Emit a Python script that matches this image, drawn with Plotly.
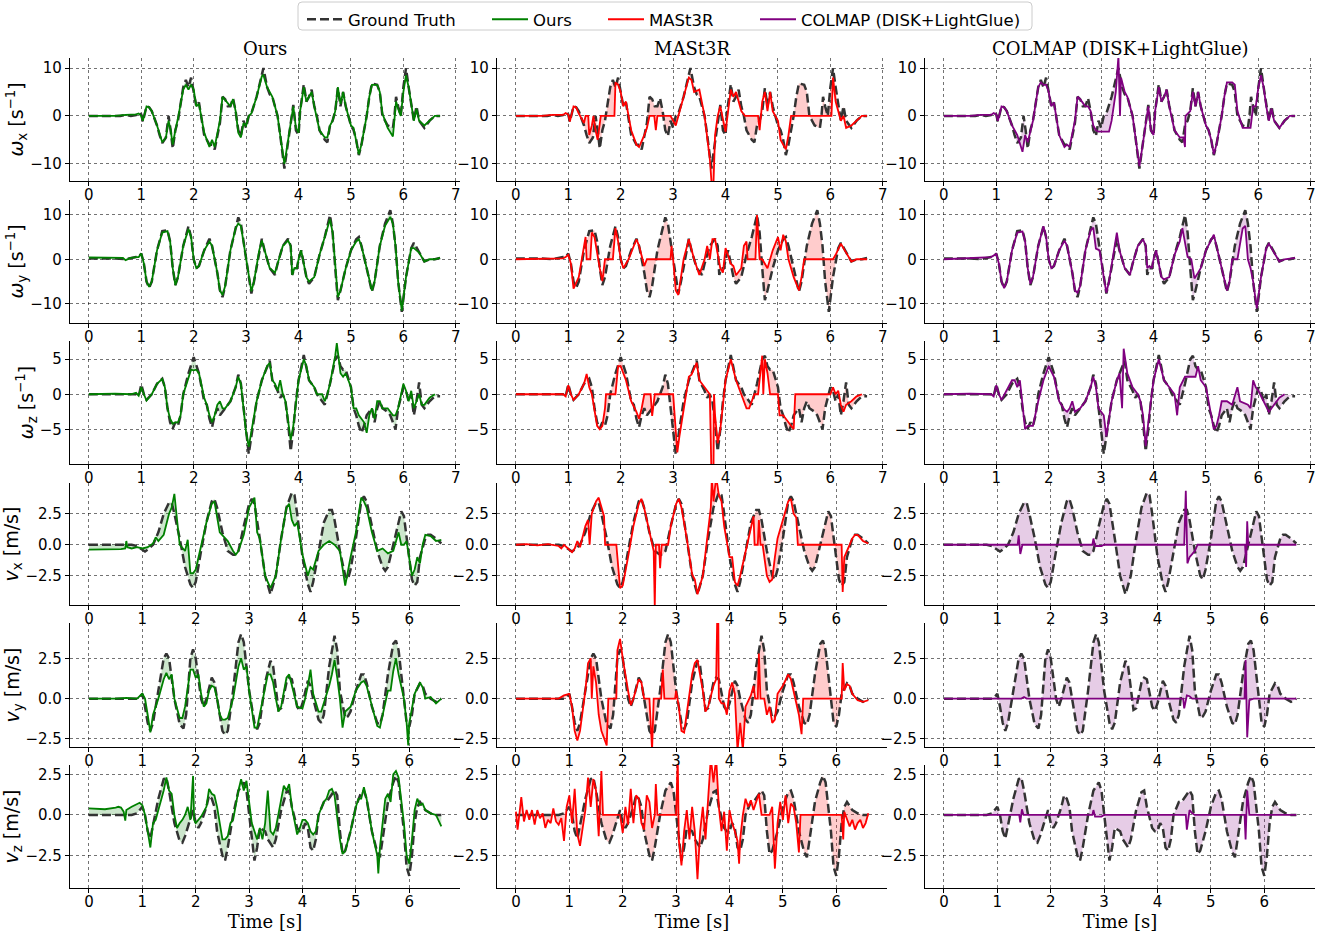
import numpy as np
import plotly.graph_objects as go

# ---------------- data: (time [s], value) pairs ----------------
GT_WX = [(0,0),(0.3,0),(0.5,0.1),(0.6,0),(0.7,0.2),(0.8,0),(0.9,0.2),(0.95,0.6),(1.0,0.3),(1.03,-1.2),(1.1,2.0),(1.15,1.8),(1.2,1.0),(1.3,-2),(1.35,-4),(1.4,-5.7),(1.47,-4.5),(1.52,0),(1.56,-3),(1.6,-6.8),(1.65,-3),(1.7,-1),(1.8,6),(1.85,7.5),(1.9,6),(1.95,8),(2.0,5),(2.05,2),(2.1,2.8),(2.15,-1),(2.2,-4),(2.3,-6),(2.35,-6),(2.4,-7),(2.45,-4),(2.5,-1.5),(2.55,4),(2.6,3.5),(2.65,2),(2.7,2),(2.75,3.7),(2.8,1),(2.85,-3),(2.9,-4.2),(2.95,-1),(3.0,-2.5),(3.05,0),(3.1,0.5),(3.2,4),(3.3,8.2),(3.33,10),(3.4,6),(3.45,4.5),(3.5,4),(3.55,2),(3.6,0),(3.65,-4),(3.7,-9),(3.73,-11),(3.78,-7),(3.85,-2),(3.9,2.3),(3.95,-3),(4.0,-4),(4.03,1),(4.1,6.6),(4.15,3),(4.2,4),(4.25,5.5),(4.3,2),(4.35,0),(4.4,-3),(4.5,-5),(4.55,-5.5),(4.6,-2),(4.65,-1),(4.7,1),(4.75,5.8),(4.8,2),(4.85,5),(4.9,2),(4.95,0),(5.0,-2),(5.05,-3),(5.1,-5),(5.15,-8.2),(5.2,-6),(5.3,0),(5.35,4),(5.4,6.8),(5.5,6.5),(5.55,5),(5.6,0),(5.7,-2),(5.8,-2.5),(5.83,0),(5.86,4),(5.9,2),(5.95,0),(6.0,6),(6.05,10),(6.1,6),(6.15,2),(6.2,-1),(6.25,2),(6.3,-1),(6.4,-2.5),(6.5,-1),(6.6,0),(6.7,0)]
OURS_WX = [(0,0),(0.5,0),(0.7,0.2),(0.9,0.3),(0.95,0.5),(1.0,0),(1.03,-1),(1.1,2),(1.15,1.8),(1.2,1),(1.3,-2),(1.4,-5.5),(1.47,-4.5),(1.52,-1),(1.56,-3),(1.6,-6),(1.65,-3),(1.7,-0.5),(1.8,5.5),(1.85,6.5),(1.9,5.5),(1.95,6.5),(2.0,5.5),(2.05,2),(2.1,2.5),(2.15,-1),(2.2,-3.5),(2.3,-6.5),(2.35,-5),(2.4,-6.5),(2.45,-4),(2.5,-1),(2.55,4),(2.6,3.3),(2.7,2),(2.75,3.5),(2.8,1),(2.85,-3.5),(2.9,-4.5),(2.95,-1.5),(3.0,-2),(3.05,0),(3.1,0.5),(3.2,4),(3.3,8.3),(3.33,8.5),(3.4,6),(3.5,4),(3.6,0),(3.65,-4),(3.7,-8.5),(3.73,-10),(3.78,-6.5),(3.85,-2),(3.9,2),(3.95,-2.5),(4.0,-3.5),(4.03,1),(4.1,6),(4.15,3),(4.2,4),(4.25,5),(4.3,2),(4.4,-3),(4.5,-4.5),(4.55,-4.5),(4.6,-2),(4.65,-1),(4.7,1),(4.75,6),(4.8,2.5),(4.85,5),(4.9,2),(5.0,-2),(5.05,-2.5),(5.1,-5),(5.15,-8),(5.2,-6),(5.3,0),(5.35,4),(5.4,6.5),(5.5,6.5),(5.55,5),(5.6,0.5),(5.7,-2.5),(5.8,-4.3),(5.83,-1),(5.86,3),(5.9,1.5),(5.95,0),(6.0,5),(6.05,8.5),(6.1,6),(6.15,2),(6.2,-1),(6.25,1.5),(6.3,-1),(6.4,-2),(6.5,-1),(6.6,0),(6.7,0)]
MAST_WX = [(0,0),(0.5,0),(0.7,0.2),(0.9,0.2),(0.95,0.6),(1.0,0.3),(1.03,-1.2),(1.1,2),(1.15,1.8),(1.2,0.5),(1.3,-1.5),(1.33,0),(1.38,0),(1.4,-4),(1.45,-2),(1.48,0),(1.52,-3),(1.56,-5),(1.62,0),(1.88,0),(1.9,7),(1.95,6.5),(2.0,5),(2.05,2),(2.1,3),(2.2,-3),(2.3,-6),(2.35,-6.5),(2.45,-4),(2.5,-2.5),(2.55,0),(2.64,0),(2.67,-3),(2.7,0),(2.95,0),(3.0,-1),(3.05,-2),(3.1,0),(3.2,4),(3.3,8),(3.35,7.5),(3.4,5),(3.5,5.5),(3.6,0),(3.7,-9),(3.74,-15),(3.77,-14),(3.8,-4),(3.85,0),(3.9,2),(4.0,-3.3),(4.05,1),(4.1,5.5),(4.15,4),(4.2,5),(4.3,1),(4.37,0),(4.62,0),(4.65,-3),(4.7,3),(4.75,5),(4.8,1),(4.85,5),(4.9,1),(4.95,0),(5.0,-1),(5.05,-5),(5.1,-6),(5.15,-7),(5.2,-4),(5.25,0),(6.02,0),(6.05,8),(6.1,3),(6.2,-1),(6.25,0),(6.3,-2.5),(6.4,-2),(6.5,-1),(6.6,0),(6.7,0)]
COLMAP_WX = [(0,0),(0.5,0),(0.7,0.2),(0.9,0.2),(0.95,0.6),(1.0,0.3),(1.03,-1),(1.1,2),(1.15,1.8),(1.2,1),(1.3,-2),(1.4,-4),(1.5,-7.5),(1.55,-4),(1.6,-5.5),(1.65,-3),(1.7,-1),(1.8,6),(1.85,7),(1.9,6.5),(1.95,6.5),(2.0,5),(2.05,2),(2.1,2.8),(2.15,-1),(2.2,-4),(2.3,-6.5),(2.35,-6),(2.4,-6.5),(2.45,-4),(2.5,-1),(2.55,4),(2.6,3.5),(2.7,2),(2.75,2),(2.8,1),(2.85,-2),(2.9,-3),(2.95,-3.3),(3.15,-3.3),(3.2,-1),(3.28,5),(3.33,12.5),(3.36,0),(3.38,8),(3.45,5),(3.5,4),(3.6,0),(3.65,-4),(3.7,-9),(3.73,-10.5),(3.78,-7),(3.85,-2),(3.9,2),(3.95,-3),(4.0,-4),(4.03,1),(4.1,6),(4.15,3),(4.2,4),(4.25,5.5),(4.3,2),(4.4,-3),(4.5,-4.5),(4.57,-4.5),(4.6,-6.5),(4.61,0),(4.7,1),(4.75,5),(4.8,2),(4.85,5),(4.9,2),(5.0,-2),(5.05,-3),(5.1,-5),(5.15,-8),(5.2,-6),(5.3,0),(5.35,4),(5.4,7),(5.5,7),(5.55,6.5),(5.6,1),(5.7,-2.5),(5.85,-2.5),(5.9,2),(5.95,2),(6.0,6),(6.05,8.5),(6.1,6),(6.15,2),(6.2,-1),(6.25,1.5),(6.3,-1),(6.4,-2.5),(6.5,-1),(6.6,0),(6.7,0)]

GT_WY = [(0,0.2),(0.5,0.2),(0.7,0),(0.8,0.3),(0.9,0.5),(0.95,0.5),(1.0,1.3),(1.05,-1),(1.1,-5),(1.15,-6.4),(1.2,-5),(1.3,2),(1.4,6.3),(1.5,6.5),(1.55,4),(1.6,-2),(1.65,-5.8),(1.7,-4),(1.8,3),(1.9,7.4),(1.95,5),(2.0,0),(2.05,-2),(2.1,-1.5),(2.2,2),(2.3,4.6),(2.35,3),(2.45,-3),(2.5,-7),(2.55,-8.5),(2.6,-6),(2.7,2),(2.8,7),(2.85,9.4),(2.9,8),(2.95,4),(3.0,0),(3.05,-4),(3.1,-7.7),(3.15,-5),(3.25,2),(3.3,4.6),(3.35,2),(3.45,-2),(3.55,-3.5),(3.6,-1),(3.7,3),(3.8,4.6),(3.85,3),(3.88,-3.5),(3.92,-2),(3.97,-2),(4.0,0),(4.05,2),(4.1,-1),(4.15,-4),(4.2,-5.5),(4.3,-4),(4.4,1),(4.5,5),(4.6,9.9),(4.65,6),(4.7,-2),(4.75,-9.2),(4.8,-7),(4.9,-2),(5.0,2),(5.1,4.5),(5.15,5),(5.2,3),(5.3,-2),(5.4,-7.3),(5.45,-5),(5.55,3),(5.65,8),(5.75,11),(5.8,8),(5.85,3),(5.9,-5),(5.97,-11.8),(6.05,-4),(6.15,2.5),(6.2,3.7),(6.3,1.5),(6.4,-0.5),(6.5,0),(6.6,0),(6.7,0.3)]
OURS_WY = [(0,0.4),(0.5,0.4),(0.65,0.3),(0.7,-0.2),(0.8,0.3),(0.9,0.5),(0.95,0.5),(1.0,1.3),(1.05,-1),(1.1,-5),(1.15,-6.2),(1.2,-5),(1.3,2),(1.4,6),(1.5,6.3),(1.55,4),(1.6,-2),(1.65,-5.8),(1.7,-4),(1.8,3),(1.9,6.8),(1.95,5),(2.0,0),(2.05,-2),(2.1,-1.5),(2.2,2),(2.3,4),(2.35,3),(2.45,-3),(2.5,-7),(2.55,-8),(2.6,-6),(2.7,2),(2.8,7),(2.85,8),(2.9,7.5),(2.95,4),(3.0,0),(3.05,-4),(3.1,-7.2),(3.15,-5),(3.25,2),(3.3,4.2),(3.35,2),(3.45,-2),(3.55,-3),(3.6,-1),(3.7,3),(3.8,4.2),(3.85,3),(3.88,-3.5),(3.92,-2),(3.97,-2),(4.0,0),(4.05,2),(4.1,-1),(4.15,-4),(4.2,-5),(4.3,-4),(4.4,1),(4.5,5),(4.6,9),(4.65,6),(4.7,-2),(4.75,-8.5),(4.8,-7),(4.9,-2),(5.0,2),(5.1,4),(5.15,4.5),(5.2,3),(5.3,-2),(5.4,-7),(5.45,-5),(5.55,3),(5.65,7.5),(5.75,9.5),(5.8,8),(5.85,3),(5.9,-5),(5.97,-11.5),(6.05,-4),(6.15,2.5),(6.2,2.5),(6.3,1.5),(6.4,-0.5),(6.5,0),(6.6,0),(6.7,0.3)]
MAST_WY = [(0,0),(0.9,0.2),(0.95,0.5),(1.0,1),(1.05,-1),(1.1,-6.6),(1.2,-4),(1.3,3.5),(1.33,5),(1.35,0),(1.42,0),(1.45,6),(1.5,5),(1.6,-2),(1.65,-4.9),(1.7,0),(1.85,0),(1.9,7),(1.95,4),(2.0,0),(2.05,-2),(2.15,0),(2.3,4.5),(2.35,3),(2.45,-1.5),(2.5,0),(2.95,0),(2.97,3),(3.0,0),(3.05,-7),(3.1,-8),(3.2,0),(3.3,4.5),(3.4,0),(3.5,-3.5),(3.6,0),(3.65,3),(3.7,0),(3.75,4.5),(3.8,4.5),(3.9,-2),(3.95,-3),(4.0,2.5),(4.1,-1),(4.15,-1.5),(4.2,-3.6),(4.3,-2),(4.35,3),(4.4,4),(4.42,0),(4.57,0),(4.6,9.9),(4.63,5),(4.65,0),(4.7,0),(4.75,-1),(4.8,-2),(4.85,0),(4.9,2),(5.0,5),(5.05,2),(5.1,5.5),(5.15,4),(5.2,0),(5.3,-4),(5.4,-7),(5.45,-4),(5.5,0),(6.05,0),(6.1,1),(6.2,3.5),(6.3,1.5),(6.4,-0.5),(6.5,0),(6.7,0)]
COLMAP_WY = [(0,0),(0.5,0.2),(0.9,0.5),(1.0,1.2),(1.05,-1),(1.1,-5),(1.15,-6.5),(1.2,-5),(1.3,2),(1.4,6),(1.5,6.2),(1.55,4),(1.6,-2),(1.65,-5.5),(1.7,-4),(1.8,3),(1.9,7.4),(1.95,5),(2.0,0),(2.05,-2),(2.1,-1.5),(2.2,2),(2.3,4.2),(2.35,3),(2.45,-3),(2.5,-7),(2.55,-7.5),(2.6,-6),(2.7,2),(2.8,6.5),(2.85,7.1),(2.9,2.4),(2.97,2),(3.05,-4),(3.1,-7.5),(3.15,-5),(3.25,2),(3.3,6),(3.35,2),(3.45,-2),(3.55,-3.5),(3.6,-1),(3.7,3),(3.8,4.5),(3.85,3),(3.88,-2),(3.92,-1.5),(3.97,-2),(4.0,0),(4.05,2),(4.1,-1),(4.15,-4),(4.2,-4.5),(4.3,-4),(4.4,1),(4.5,4),(4.55,7),(4.6,4),(4.65,0.5),(4.72,0),(4.78,-4.3),(4.85,-3),(4.9,-2),(5.0,2),(5.1,4.5),(5.15,5.5),(5.2,3),(5.3,-2),(5.4,-7),(5.45,-5),(5.5,0),(5.6,0),(5.7,6.9),(5.75,7.5),(5.8,0),(5.85,-2),(5.9,-5),(5.97,-11),(6.05,-4),(6.15,2.5),(6.2,3.5),(6.3,1.5),(6.4,-0.5),(6.5,0),(6.7,0.3)]

GT_WZ = [(0,0),(0.5,0),(0.9,0),(0.95,-0.3),(1.0,1.4),(1.05,0),(1.1,-0.8),(1.2,0),(1.3,1.5),(1.4,2.2),(1.45,1),(1.5,-2),(1.55,-4),(1.6,-4.9),(1.65,-4),(1.7,-4.5),(1.75,-3),(1.8,0),(1.9,3),(2.0,5.3),(2.05,4),(2.1,3),(2.2,-1),(2.25,-1.5),(2.3,-3.5),(2.35,-4.7),(2.4,-3),(2.45,-2),(2.5,-3),(2.55,-2.5),(2.6,-2),(2.7,-1),(2.8,1),(2.85,2.8),(2.9,1.5),(2.95,-2),(3.0,-6),(3.05,-8.5),(3.1,-6),(3.2,-1),(3.3,2),(3.35,3),(3.45,4.8),(3.5,2),(3.6,0.5),(3.65,-0.5),(3.7,0),(3.75,-1),(3.8,-4),(3.85,-8.1),(3.9,-5),(3.95,-1),(4.0,2),(4.1,5.6),(4.15,4),(4.2,2),(4.3,1),(4.35,0),(4.45,-1),(4.5,-1.5),(4.55,0),(4.6,1.5),(4.7,5),(4.75,5.5),(4.8,4),(4.85,3.5),(4.9,3.5),(5.0,1),(5.05,-2),(5.1,-3),(5.15,-4.5),(5.2,-5.5),(5.25,-4.5),(5.3,-3),(5.4,-2),(5.45,-4),(5.5,-2),(5.55,-1),(5.6,-2),(5.7,-2.5),(5.75,-3),(5.8,-4),(5.85,-5),(5.9,-2),(6.0,1),(6.05,0.5),(6.1,-1),(6.15,0),(6.2,-3),(6.25,-1),(6.3,1.7),(6.35,-1.5),(6.4,-2),(6.5,-1),(6.6,-0.3),(6.7,-0.3)]
OURS_WZ = [(0,0),(0.5,0.1),(0.8,0),(0.9,0.2),(0.95,-0.2),(1.0,1),(1.05,0),(1.1,-0.9),(1.2,0),(1.3,1.5),(1.4,2.2),(1.45,1),(1.5,-2),(1.55,-3.5),(1.6,-4.2),(1.65,-4),(1.7,-4),(1.75,-3),(1.8,0),(1.9,2.5),(1.95,3.5),(2.0,3.4),(2.05,3.5),(2.1,3),(2.2,-0.5),(2.25,-1.5),(2.3,-3),(2.35,-4),(2.4,-3),(2.45,-1.5),(2.5,-1),(2.55,-2),(2.6,-2),(2.7,-1),(2.8,1),(2.85,2.5),(2.9,1.5),(2.95,-2),(3.0,-5.5),(3.05,-7.5),(3.1,-5.5),(3.2,-1),(3.3,2),(3.35,3),(3.4,4),(3.45,4.5),(3.5,2),(3.55,1.5),(3.6,0.5),(3.65,2),(3.7,0),(3.75,-1),(3.8,-3.5),(3.85,-6.5),(3.9,-4.5),(3.95,-1),(4.0,2),(4.1,5),(4.15,4),(4.2,2),(4.3,1),(4.35,0),(4.45,0),(4.5,-1),(4.55,0),(4.6,1.5),(4.7,5.5),(4.73,7.3),(4.78,4),(4.8,3),(4.85,2.5),(4.9,3),(5.0,1),(5.05,-2),(5.1,-2),(5.15,-3),(5.2,-3.5),(5.25,-4),(5.3,-5.5),(5.35,-3),(5.4,-2),(5.45,-3.5),(5.5,-1),(5.55,-1),(5.6,-2),(5.7,-2),(5.75,-2.5),(5.8,-3),(5.85,-3),(5.9,-2),(6.0,1.5),(6.05,0.5),(6.1,-1),(6.15,0.5),(6.2,-2),(6.25,-1),(6.3,0),(6.35,-1.5),(6.4,-1.5),(6.5,-0.5),(6.6,0)]
MAST_WZ = [(0,0),(0.5,0),(0.9,0),(0.95,-0.3),(1.0,1.3),(1.05,0),(1.1,-0.8),(1.2,0),(1.3,1.5),(1.35,2.9),(1.4,1),(1.45,0),(1.5,-2),(1.55,-4.5),(1.6,-5),(1.65,-4.5),(1.7,-2),(1.72,0),(1.9,0),(1.95,4),(2.0,4),(2.1,2),(2.2,-1),(2.3,-2.5),(2.35,-3.5),(2.4,-2),(2.45,0),(2.57,0),(2.6,-3.1),(2.65,0),(3.0,0),(3.02,-2),(3.05,-6),(3.08,-8.3),(3.12,-6),(3.2,-2),(3.3,2.5),(3.35,2.8),(3.45,4.5),(3.5,2),(3.6,1),(3.65,0.5),(3.7,0),(3.73,-11),(3.77,-11),(3.78,0),(3.8,-3),(3.85,-7),(3.9,-5),(4.0,2),(4.1,5),(4.2,2),(4.3,0),(4.4,-2),(4.45,-2),(4.5,-1),(4.55,0),(4.62,0),(4.65,2),(4.7,5.5),(4.72,0),(4.75,5),(4.8,3),(4.85,0),(5.0,0),(5.03,-3),(5.1,-3),(5.2,-4),(5.3,-5),(5.33,0),(6.0,0),(6.05,1),(6.1,0),(6.15,0.5),(6.2,-1.5),(6.25,-2.5),(6.3,-1.5),(6.4,-1),(6.5,-0.3),(6.6,0)]
COLMAP_WZ = [(0,0),(0.5,0.1),(0.9,0),(0.95,-0.3),(1.0,1.3),(1.05,0),(1.1,-0.8),(1.2,0.5),(1.3,2),(1.35,2),(1.4,1),(1.45,2),(1.5,-2),(1.55,-5),(1.6,-4.5),(1.7,-4.5),(1.8,-1),(1.9,2),(2.0,4),(2.1,2.5),(2.2,-1),(2.3,-2.2),(2.35,-2.5),(2.4,-2),(2.45,-1),(2.5,-2.5),(2.6,-2),(2.7,-1),(2.8,1),(2.85,2.5),(2.9,1),(2.95,-2),(3.0,-2.5),(3.05,-3),(3.1,-6),(3.2,-1),(3.3,2),(3.35,3),(3.4,-2),(3.43,6.5),(3.5,3),(3.6,1),(3.7,0),(3.75,-1),(3.8,-3),(3.85,-7.4),(3.9,-4),(4.0,2),(4.1,5),(4.2,2),(4.3,1),(4.4,0),(4.45,-3),(4.5,1),(4.6,2.5),(4.8,2.5),(4.85,4),(4.9,2),(5.0,1),(5.1,-3),(5.15,-5),(5.2,-4.5),(5.25,-3),(5.3,-1),(5.4,-1),(5.5,-1.5),(5.6,1),(5.65,-1),(5.8,-1.5),(5.85,-2),(5.9,2),(5.95,1),(6.0,0.5),(6.1,-1),(6.2,-2.5),(6.3,-1.5),(6.4,-0.5),(6.5,0)]

GT_VX = [(0,0),(0.8,0),(0.9,-0.1),(1.0,-0.4),(1.05,-0.55),(1.1,-0.4),(1.2,0),(1.3,1.0),(1.4,2.5),(1.5,3.4),(1.55,3.4),(1.6,2.5),(1.7,0.5),(1.8,-1.8),(1.9,-3.2),(1.95,-3.5),(2.0,-3),(2.1,-0.5),(2.2,1.8),(2.3,3.5),(2.35,3.7),(2.4,3),(2.5,1),(2.6,-0.5),(2.7,-0.8),(2.75,-0.8),(2.8,-0.5),(2.9,1.5),(3.0,3.3),(3.05,3.7),(3.1,3.3),(3.2,0.5),(3.3,-2.5),(3.4,-4.0),(3.5,-2.5),(3.6,0.5),(3.7,3),(3.8,4.2),(3.85,4),(3.9,2.5),(4.0,-1),(4.1,-3.2),(4.15,-3.8),(4.2,-3),(4.3,-0.5),(4.4,1.8),(4.5,2.8),(4.55,2.8),(4.6,2),(4.7,-0.5),(4.8,-2.5),(4.85,-2.8),(4.9,-2),(5.0,0.5),(5.1,3.5),(5.15,3.9),(5.2,3.5),(5.3,1.5),(5.4,-0.5),(5.5,-1.8),(5.55,-2.1),(5.6,-1.8),(5.7,0),(5.8,2),(5.85,2.7),(5.9,2.3),(6.0,-1),(6.05,-2.8),(6.1,-3.3),(6.15,-3),(6.2,-1),(6.3,0.5),(6.35,0.8),(6.4,0.8),(6.5,0.5),(6.6,0.1)]
OURS_VX = [(0,-0.4),(0.4,-0.4),(0.6,-0.35),(0.68,-0.3),(0.7,0.3),(0.72,-0.2),(0.8,-0.3),(0.9,-0.2),(1.0,-0.3),(1.1,-0.2),(1.2,0.1),(1.25,0.6),(1.3,0.3),(1.4,0.8),(1.5,2.5),(1.55,3),(1.6,4.1),(1.65,2),(1.7,0),(1.8,-0.5),(1.85,0.4),(1.9,-2.3),(1.95,-2.3),(2.0,-2),(2.1,0),(2.2,1.8),(2.3,3.3),(2.35,3.5),(2.45,1),(2.55,0.5),(2.6,0.3),(2.7,-0.5),(2.75,-0.8),(2.8,-0.5),(2.9,0.8),(3.0,3),(3.1,3.8),(3.15,1),(3.2,0.5),(3.3,-2.5),(3.4,-3.5),(3.5,-2.5),(3.6,0.5),(3.7,3),(3.75,3.3),(3.8,2),(3.85,1.5),(3.9,1.8),(3.95,0.5),(4.0,-0.8),(4.1,-2.5),(4.15,-1.8),(4.2,-2),(4.3,-0.5),(4.4,0),(4.5,0.3),(4.6,0),(4.7,-0.5),(4.8,-3.3),(4.85,-2),(4.9,-1),(5.0,1),(5.1,3.8),(5.15,3.5),(5.2,3),(5.3,1),(5.4,-0.5),(5.5,-0.3),(5.55,-0.5),(5.6,-0.7),(5.7,-0.5),(5.8,1),(5.85,0),(5.9,0),(5.95,0.3),(6.0,-1),(6.05,-2.5),(6.1,-2),(6.15,-1),(6.2,-1.5),(6.25,0),(6.3,0.8),(6.4,0.7),(6.5,0.3),(6.6,0.4)]
MAST_VX = [(0,0),(0.2,0.05),(0.4,-0.05),(0.6,0.05),(0.8,-0.1),(0.85,-0.3),(0.9,0),(1.0,-0.4),(1.05,-0.6),(1.1,-0.3),(1.15,0.3),(1.2,-0.2),(1.3,1.5),(1.35,2),(1.38,0),(1.42,2.5),(1.5,3.5),(1.55,3.8),(1.6,3),(1.65,2.3),(1.67,0),(1.88,0),(1.95,-3.5),(2.0,-3.3),(2.1,-1),(2.2,1.5),(2.3,3.3),(2.35,3.7),(2.4,3),(2.5,1),(2.58,-0.5),(2.6,-5),(2.62,0),(2.68,0),(2.7,-1.9),(2.73,0),(2.85,0),(2.9,1.5),(3.0,3.3),(3.05,3.7),(3.1,3),(3.2,0.5),(3.3,-2.4),(3.35,-2.8),(3.4,-4),(3.5,-2.5),(3.6,1.2),(3.65,3),(3.67,5.5),(3.7,3.5),(3.75,5.5),(3.8,4),(3.85,3.5),(3.9,1.5),(4.0,-1),(4.05,-1),(4.1,-3),(4.15,-3.3),(4.2,-2.5),(4.3,-0.5),(4.4,1.5),(4.45,2.3),(4.47,0),(4.53,0),(4.55,2),(4.58,0),(4.62,0),(4.65,-1),(4.7,-2.5),(4.75,-3),(4.8,-2.8),(4.85,-1),(4.9,0.5),(5.0,2),(5.1,3.5),(5.15,3.7),(5.2,2.5),(5.25,2.2),(5.28,0),(6.1,0),(6.12,-3.8),(6.15,-1),(6.2,-0.5),(6.3,0.5),(6.35,0.8),(6.4,0.8),(6.5,0.3),(6.6,0.1)]
COLMAP_VX = [(0,0),(1.38,0),(1.4,0.75),(1.43,-0.75),(1.47,0),(2.78,0),(2.8,0.5),(2.83,-0.1),(2.95,-0.1),(3.0,0),(4.5,0),(4.53,4.35),(4.56,-1.5),(4.6,-1),(4.7,-0.5),(4.75,0),(5.64,0),(5.66,-1.8),(5.68,1.9),(5.7,0),(6.6,0)]

GT_VY = [(0,0),(0.9,0),(0.95,0.1),(1.0,0.3),(1.05,-0.5),(1.1,-1.5),(1.15,-2.0),(1.2,-1.5),(1.3,0.5),(1.4,2.5),(1.45,2.8),(1.5,2.5),(1.6,0),(1.7,-1.6),(1.77,-1.85),(1.82,-1),(1.9,2.5),(1.95,3.05),(2.0,2.5),(2.1,0),(2.15,-0.5),(2.2,0),(2.3,1.3),(2.35,1),(2.4,0),(2.5,-2),(2.55,-2.25),(2.6,-2),(2.7,0.5),(2.8,3.5),(2.85,4.0),(2.9,3.5),(3.0,0.5),(3.1,-1.5),(3.15,-1.9),(3.2,-1.5),(3.3,1),(3.4,2.35),(3.45,2),(3.5,0.5),(3.55,-0.7),(3.6,-0.6),(3.7,1),(3.75,1.3),(3.8,1.2),(3.9,-0.5),(3.95,-0.75),(4.0,-0.3),(4.05,0.5),(4.1,1.1),(4.15,0.8),(4.2,0),(4.3,-1.3),(4.35,-1.5),(4.4,-1),(4.5,2),(4.6,3.9),(4.65,3),(4.7,0.5),(4.8,-1.2),(4.85,-1.1),(4.9,-0.8),(5.0,0.5),(5.1,1.5),(5.15,1.5),(5.2,1),(5.3,-0.5),(5.4,-1.5),(5.45,-1.6),(5.5,-1),(5.6,1.5),(5.7,3.4),(5.75,3.6),(5.8,3),(5.9,0),(5.95,-1.5),(6.0,-1.75),(6.05,-1),(6.1,0.3),(6.2,0.95),(6.25,0.8),(6.3,0.3),(6.4,0),(6.5,-0.2),(6.6,0)]
OURS_VY = [(0,0),(0.5,0),(0.7,0.05),(0.9,0),(1.0,0.3),(1.05,0),(1.1,-1),(1.15,-2.1),(1.2,-1),(1.25,-0.5),(1.3,0),(1.4,1.2),(1.45,1.6),(1.5,1.2),(1.55,1.5),(1.6,0),(1.7,-1.2),(1.75,-1.2),(1.8,-0.5),(1.9,1.8),(1.95,1.8),(2.0,1.3),(2.05,1.5),(2.1,0.3),(2.15,-0.5),(2.2,-0.3),(2.25,0.5),(2.3,0.8),(2.35,0.7),(2.4,0),(2.45,-1),(2.5,-1.3),(2.55,-1.3),(2.6,-1.2),(2.7,0),(2.8,2),(2.85,2.5),(2.9,1.8),(2.95,2),(3.0,0.5),(3.1,-1.8),(3.15,-1.8),(3.2,-1),(3.3,0.5),(3.35,1.5),(3.4,1.5),(3.45,1),(3.5,0),(3.55,-0.8),(3.6,-0.5),(3.7,1.3),(3.75,1.5),(3.8,0.8),(3.9,-0.5),(4.0,-0.6),(4.05,0),(4.1,0.8),(4.15,1.8),(4.2,0.3),(4.3,-0.8),(4.35,-0.8),(4.4,-0.3),(4.5,0.8),(4.55,1.5),(4.6,2.4),(4.65,1.3),(4.7,0),(4.75,-1.8),(4.8,-0.8),(4.9,-0.5),(5.0,0.5),(5.1,1),(5.15,1.1),(5.2,0.8),(5.3,-0.5),(5.4,-1.7),(5.45,-1.8),(5.5,-1),(5.6,0.5),(5.65,0.5),(5.7,1.7),(5.75,2.5),(5.8,1.5),(5.9,0),(5.95,-1.5),(5.98,-2.9),(6.0,-1.5),(6.1,0.3),(6.2,1.0),(6.25,0.7),(6.3,0),(6.4,0.1),(6.5,-0.3),(6.6,0)]
MAST_VY = [(0,0),(0.8,0),(0.9,0.2),(1.0,0.3),(1.05,-0.5),(1.1,-2),(1.15,-2.6),(1.2,-2),(1.3,0.5),(1.35,2.2),(1.4,2.5),(1.42,0),(1.45,2),(1.5,1),(1.55,-1),(1.6,-2),(1.7,-2.9),(1.73,0),(1.88,0),(1.9,3),(1.95,3.7),(2.0,2.5),(2.1,0.5),(2.15,-0.4),(2.2,0),(2.3,1.2),(2.35,1),(2.4,0),(2.5,0),(2.52,-1),(2.55,-3.2),(2.58,0),(2.72,0),(2.75,1.8),(2.78,0),(2.98,0),(3.0,0.5),(3.05,-0.5),(3.1,-2),(3.15,-2.1),(3.2,-1),(3.3,1.5),(3.35,2.2),(3.4,2.4),(3.5,0.5),(3.55,-0.8),(3.6,-0.5),(3.7,0.8),(3.75,1.2),(3.77,5),(3.79,5),(3.8,0),(3.85,-0.3),(3.9,-0.3),(3.95,-1),(4.0,0.5),(4.05,1),(4.1,0.3),(4.15,-3.2),(4.2,-1.5),(4.25,-3.2),(4.3,-0.5),(4.4,0.2),(4.45,0.8),(4.48,0),(4.53,0),(4.55,2.8),(4.58,0),(4.65,0),(4.7,-1),(4.75,-0.5),(4.8,-1.5),(4.85,-1.3),(4.9,0.3),(5.0,0.8),(5.1,1.5),(5.15,1.2),(5.2,0.5),(5.3,-1),(5.35,-2.2),(5.38,0),(6.1,0),(6.12,2.2),(6.15,0.5),(6.2,0.9),(6.25,0.8),(6.3,0.3),(6.4,-0.1),(6.5,-0.2),(6.6,-0.1)]
COLMAP_VY = [(0,0),(1.45,0),(1.5,0.1),(1.55,0),(4.48,0),(4.5,-0.6),(4.55,0.2),(4.6,0.15),(4.65,0),(5.63,0),(5.65,2.4),(5.68,-2.4),(5.72,-0.1),(5.8,0),(6.6,0)]

GT_VZ = [(0,0),(0.8,0),(0.9,0.1),(1.0,0.5),(1.05,0),(1.1,-1),(1.15,-1.45),(1.2,-0.7),(1.3,1),(1.4,2.2),(1.45,2.3),(1.5,1.5),(1.6,-0.5),(1.7,-1.6),(1.75,-1.7),(1.8,-1.3),(1.9,-0.3),(1.95,0.3),(2.0,-0.5),(2.05,-0.8),(2.1,-0.5),(2.2,0.5),(2.25,1.2),(2.3,1),(2.35,0.5),(2.4,-1),(2.5,-2.5),(2.55,-2.8),(2.6,-2),(2.7,0),(2.8,1.5),(2.9,2.0),(2.95,1.5),(3.0,0),(3.05,-1.5),(3.1,-2.8),(3.15,-2),(3.2,-0.8),(3.3,-1),(3.35,-1.5),(3.45,-2.0),(3.5,-1.5),(3.6,0.3),(3.7,1.4),(3.75,1.5),(3.8,0.5),(3.9,-0.8),(3.95,-1.0),(4.0,-1),(4.05,-0.5),(4.1,-0.8),(4.15,-2),(4.2,-2.2),(4.25,-1.5),(4.3,0),(4.4,0.8),(4.45,0.8),(4.55,1.3),(4.6,1.5),(4.65,1.2),(4.7,-1.0),(4.75,-2.4),(4.8,-2.2),(4.9,-1),(5.0,0.5),(5.1,1.4),(5.15,1.5),(5.2,1),(5.3,-1),(5.4,-2.3),(5.45,-2.6),(5.5,-1.5),(5.6,0.8),(5.7,2),(5.75,2.4),(5.8,2),(5.85,0.5),(5.9,-1),(5.95,-3.2),(6.0,-3.75),(6.05,-2.5),(6.1,-0.5),(6.15,0.5),(6.2,0.8),(6.3,0.3),(6.4,0.1),(6.5,0),(6.6,0)]
OURS_VZ = [(0,0.4),(0.3,0.35),(0.5,0.45),(0.55,0.5),(0.6,0.45),(0.65,0.2),(0.68,-0.35),(0.7,0.3),(0.8,0.5),(0.9,0.7),(0.95,0.75),(1.0,0.6),(1.05,0),(1.1,-1),(1.15,-2.0),(1.2,-0.5),(1.25,-0.3),(1.3,0.3),(1.4,1.5),(1.45,2.3),(1.5,1.5),(1.55,1.3),(1.6,0),(1.65,-0.8),(1.7,-0.5),(1.75,-0.3),(1.8,0),(1.85,0.5),(1.9,-0.3),(1.95,2.4),(1.97,-0.3),(2.0,-0.5),(2.05,-0.3),(2.1,-0.1),(2.2,0.5),(2.25,1.6),(2.3,1.3),(2.35,1.2),(2.4,0.5),(2.45,-0.5),(2.5,-1.5),(2.55,-1.5),(2.6,-1.3),(2.65,-0.5),(2.7,-0.3),(2.8,1.5),(2.85,2.2),(2.9,1.5),(2.95,2.1),(3.0,0.8),(3.05,-0.5),(3.1,-1),(3.15,-1.5),(3.2,-0.8),(3.25,-1.5),(3.3,-0.5),(3.35,1.5),(3.4,-1),(3.45,-1.2),(3.5,-0.8),(3.55,0),(3.6,0.8),(3.65,1.8),(3.7,1.5),(3.75,1.9),(3.8,0.5),(3.85,-0.3),(3.9,-1.2),(3.95,-0.8),(4.0,-0.3),(4.05,-0.3),(4.1,-0.5),(4.15,-1),(4.2,-1.2),(4.25,-1),(4.3,0),(4.4,0.8),(4.45,1),(4.5,1.5),(4.55,1.6),(4.6,1.2),(4.7,-1.5),(4.75,-2.4),(4.8,-2.2),(4.9,-1),(5.0,0.5),(5.05,1),(5.1,1),(5.15,1.7),(5.2,1),(5.3,-1),(5.4,-2.5),(5.42,-3.6),(5.45,-2),(5.5,-0.5),(5.55,1),(5.6,1.3),(5.65,0.8),(5.7,2.5),(5.75,2.7),(5.8,2.3),(5.85,1),(5.9,-0.5),(5.95,-2.5),(6.0,-3.0),(6.05,-1.5),(6.1,0.3),(6.15,1.0),(6.2,0.6),(6.25,0.7),(6.3,0.3),(6.4,0.1),(6.5,0),(6.6,-0.7)]
MAST_VZ = [(0,0.2),(0.03,-0.9),(0.07,0.2),(0.1,1.1),(0.15,-0.4),(0.2,0.3),(0.25,-0.3),(0.3,0.3),(0.35,-0.6),(0.4,0.3),(0.45,-0.2),(0.5,0.1),(0.55,-0.8),(0.6,-0.3),(0.65,-0.5),(0.7,0.4),(0.75,-0.4),(0.8,-0.6),(0.85,-0.2),(0.9,-1.6),(0.95,0.5),(1.0,1.2),(1.05,-0.5),(1.1,1.6),(1.15,-1.2),(1.2,-1.9),(1.25,-0.8),(1.3,0.3),(1.35,2.3),(1.4,0.5),(1.45,2.2),(1.5,1.5),(1.55,-1.3),(1.6,2.7),(1.63,0),(1.95,0),(2.0,-1.1),(2.05,0.5),(2.1,-0.6),(2.15,1.6),(2.2,-0.5),(2.25,1.2),(2.3,1),(2.35,-0.5),(2.4,-0.9),(2.45,1.2),(2.5,0.8),(2.55,-0.8),(2.6,0),(2.62,1.9),(2.65,0),(3.0,0),(3.03,3.5),(3.05,-1.5),(3.1,-3.1),(3.15,-1),(3.2,0.3),(3.25,-1.5),(3.3,0.5),(3.35,-1),(3.4,-3.95),(3.45,-1),(3.5,0.5),(3.55,-1.5),(3.6,1),(3.65,3.5),(3.7,2),(3.75,3.5),(3.8,0.5),(3.85,-1),(3.9,0.2),(3.95,-2.2),(4.0,0.3),(4.05,-0.5),(4.1,-1),(4.15,-1.6),(4.18,-3.0),(4.2,-1.5),(4.25,0),(4.3,1.0),(4.35,0.5),(4.4,0.9),(4.45,0.3),(4.5,0.8),(4.55,1.3),(4.6,0),(4.75,0),(4.8,0.5),(4.85,-3.3),(4.9,-0.5),(4.95,0.8),(5.0,-0.3),(5.05,1.2),(5.1,-0.5),(5.15,0.7),(5.2,0.5),(5.25,-0.5),(5.3,-2.3),(5.33,0),(6.1,0),(6.13,-1.5),(6.15,0.2),(6.2,-0.2),(6.25,-0.7),(6.3,-0.3),(6.35,-0.9),(6.4,-0.5),(6.45,-0.3),(6.5,-0.8),(6.55,-0.5),(6.6,0.1)]
COLMAP_VZ = [(0,0),(1.41,0),(1.43,-0.45),(1.46,0.35),(1.49,0),(2.78,0),(2.8,0.3),(2.83,-0.1),(2.95,-0.1),(3.0,0),(4.53,0),(4.55,-0.9),(4.6,0.3),(4.65,0.1),(4.7,0),(5.63,0),(5.65,-1.5),(5.68,1.5),(5.72,0),(6.6,0)]

METHODS = ["Ours", "MASt3R", "COLMAP (DISK+LightGlue)"]
ROW_LABELS = ["<i>ω</i><sub>x</sub> [s<sup>−1</sup>]", "<i>ω</i><sub>y</sub> [s<sup>−1</sup>]",
              "<i>ω</i><sub>z</sub> [s<sup>−1</sup>]", "<i>v</i><sub>x</sub> [m/s]",
              "<i>v</i><sub>y</sub> [m/s]", "<i>v</i><sub>z</sub> [m/s]"]
GT_ROWS = [GT_WX, GT_WY, GT_WZ, GT_VX, GT_VY, GT_VZ]
EST_ROWS = [[OURS_WX, MAST_WX, COLMAP_WX], [OURS_WY, MAST_WY, COLMAP_WY], [OURS_WZ, MAST_WZ, COLMAP_WZ],
            [OURS_VX, MAST_VX, COLMAP_VX], [OURS_VY, MAST_VY, COLMAP_VY], [OURS_VZ, MAST_VZ, COLMAP_VZ]]
Y_TICKS = [[-10, 0, 10], [-10, 0, 10], [-5, 0, 5], [-2.5, 0, 2.5], [-2.5, 0, 2.5], [-2.5, 0, 2.5]]
Y_TICKTEXT = [["−10", "0", "10"], ["−10", "0", "10"], ["−5", "0", "5"],
              ["−2.5", "0.0", "2.5"], ["−2.5", "0.0", "2.5"], ["−2.5", "0.0", "2.5"]]

# ---------------- styling / layout ----------------
W, H = 1328, 932
Y_RANGES = [[-13.6, 12.1], [-14.3, 13.3], [-9.95, 7.6], [-4.86, 4.98], [-3.0, 4.69], [-4.49, 3.07]]
X_RANGES = [[-0.36, 7.08]] * 3 + [[-0.355, 6.95]] * 3
X_TICKS = [list(range(0, 8))] * 3 + [list(range(0, 7))] * 3
ROW_PX = [(58, 181), (200, 323), (341, 464), (483, 605), (623, 747), (765, 888)]
COL_PX = [(70, 460), (497, 887), (925, 1315)]
COLORS = ["#008000", "#ff0000", "#800080"]
FILLS = ["rgba(0,128,0,0.2)", "rgba(255,0,0,0.2)", "rgba(128,0,128,0.2)"]
GT_COLOR = "#333333"
SANS = "DejaVu Sans"
SERIF = "DejaVu Serif"
LEGEND_NAMES = ["legend", "legend2", "legend3", "legend4"]   # GT, Ours, MASt3R, COLMAP
LEGEND_LEFT_PX = [302, 487, 603, 755]
LEGEND_BOX_PX = (298, 2, 1032, 30)


def split(pairs):
    a = np.array(pairs, dtype=float)
    return a[:, 0], a[:, 1]


fig = go.Figure()
layout = {}
for r in range(6):
    gt_t, gt_v = split(GT_ROWS[r])
    for c in range(3):
        idx = r * 3 + c + 1
        xa = "x" if idx == 1 else f"x{idx}"
        ya = "y" if idx == 1 else f"y{idx}"
        et, ev = split(EST_ROWS[r][c])
        # shaded error region between estimate and ground truth
        fig.add_trace(go.Scatter(x=np.concatenate([et, gt_t[::-1]]), y=np.concatenate([ev, gt_v[::-1]]),
                                 fill="toself", fillcolor=FILLS[c], line=dict(width=0), mode="lines",
                                 hoverinfo="skip", showlegend=False, xaxis=xa, yaxis=ya))
        fig.add_trace(go.Scatter(x=gt_t, y=gt_v, mode="lines", name="Ground Truth",
                                 line=dict(color=GT_COLOR, width=2.5, dash="9px,4px"),
                                 showlegend=(idx == 1), legend=LEGEND_NAMES[0], xaxis=xa, yaxis=ya))
        fig.add_trace(go.Scatter(x=et, y=ev, mode="lines", name=METHODS[c],
                                 line=dict(color=COLORS[c], width=1.8),
                                 showlegend=(r == 0), legend=LEGEND_NAMES[c + 1], xaxis=xa, yaxis=ya))
        x0, x1 = COL_PX[c]
        y0, y1 = ROW_PX[r]
        common = dict(showline=True, linecolor="black", linewidth=1.3, mirror=False,
                      ticks="outside", ticklen=4, tickwidth=1.1, tickcolor="black",
                      showgrid=True, gridcolor="rgba(0,0,0,0.55)", gridwidth=1, griddash="dot",
                      zeroline=False, tickfont=dict(family=SANS, size=15, color="black"))
        xkey = "xaxis" if idx == 1 else f"xaxis{idx}"
        ykey = "yaxis" if idx == 1 else f"yaxis{idx}"
        xd = dict(common, domain=[x0 / W, x1 / W], anchor=ya, range=X_RANGES[r],
                  tickmode="array", tickvals=X_TICKS[r], ticklabelstandoff=-4)
        if r == 5:
            xd["title"] = dict(text="Time [s]", font=dict(family=SERIF, size=18, color="black"), standoff=0)
        yd = dict(common, domain=[1 - y1 / H, 1 - y0 / H], anchor=xa, range=Y_RANGES[r],
                  tickmode="array", tickvals=Y_TICKS[r], ticktext=Y_TICKTEXT[r])
        if c == 0:
            yd["title"] = dict(text=ROW_LABELS[r], font=dict(family=SANS, size=19, color="black"), standoff=0)
        layout[xkey] = xd
        layout[ykey] = yd

annotations = []
for c in range(3):
    x0, x1 = COL_PX[c]
    annotations.append(dict(text=METHODS[c], x=(x0 + x1) / 2 / W, y=1 - 48 / H, xref="paper", yref="paper",
                            showarrow=False, xanchor="center", yanchor="middle",
                            font=dict(family=SERIF, size=18, color="black")))

# one shared rounded frame behind the four legend groups
bx0, by0, bx1, by1 = LEGEND_BOX_PX
rad = 4


def px(xp):
    return xp / W


def py(yp):
    return 1 - yp / H


box_path = (f"M {px(bx0 + rad)} {py(by0)} L {px(bx1 - rad)} {py(by0)} "
            f"Q {px(bx1)} {py(by0)} {px(bx1)} {py(by0 + rad)} L {px(bx1)} {py(by1 - rad)} "
            f"Q {px(bx1)} {py(by1)} {px(bx1 - rad)} {py(by1)} L {px(bx0 + rad)} {py(by1)} "
            f"Q {px(bx0)} {py(by1)} {px(bx0)} {py(by1 - rad)} L {px(bx0)} {py(by0 + rad)} "
            f"Q {px(bx0)} {py(by0)} {px(bx0 + rad)} {py(by0)} Z")
shapes = [dict(type="path", xref="paper", yref="paper", path=box_path,
               line=dict(color="#cccccc", width=1), fillcolor="white", layer="below")]

legends = {}
for name, left in zip(LEGEND_NAMES, LEGEND_LEFT_PX):
    legends[name] = dict(orientation="h", x=left / W, xanchor="left", y=1 - 2 / H, yanchor="top",
                         borderwidth=0, bgcolor="rgba(0,0,0,0)",
                         font=dict(family=SANS, size=16.5, color="black"), itemwidth=36)

fig.update_layout(
    width=W, height=H, margin=dict(l=0, r=0, t=0, b=0),
    paper_bgcolor="white", plot_bgcolor="white",
    annotations=annotations, shapes=shapes,
    **legends,
    **layout,
)
fig.write_html("out.html")
